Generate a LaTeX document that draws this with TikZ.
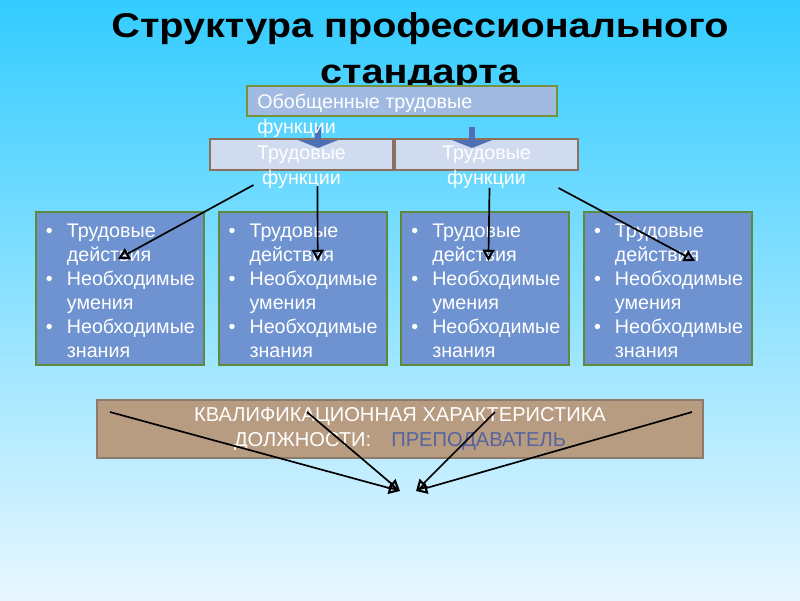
\documentclass[tikz,border=0pt]{standalone}
\usepackage{fontspec}
\setmainfont{Liberation Sans}
\newfontfamily\titlefont{Liberation Sans}[FakeStretch=1.15]
\usepackage{xcolor}
\usepackage{tikz}
\usetikzlibrary{shapes.geometric, arrows, arrows.meta, positioning, calc}

\definecolor{bgtop}{RGB}{51,204,255}
\definecolor{bgmid}{RGB}{118,215,250}
\definecolor{bgbot}{RGB}{232,247,255}
\definecolor{genfill}{RGB}{160,186,226}
\definecolor{genedge}{RGB}{118,146,60}
\definecolor{tffill}{RGB}{208,219,240}
\definecolor{tfedge}{RGB}{140,112,92}
\definecolor{tdfill}{RGB}{111,147,208}
\definecolor{tdedge}{RGB}{94,138,60}
\definecolor{qfill}{RGB}{184,156,130}
\definecolor{qedge}{RGB}{140,123,107}
\definecolor{qblue}{RGB}{85,100,160}
\definecolor{barrow}{RGB}{79,111,181}

\newcommand{\tdlist}{%
  \raggedright
  \begin{list}{\textbullet}{%
    \setlength{\leftmargin}{17pt}\setlength{\labelsep}{10pt}%
    \setlength{\labelwidth}{7pt}\setlength{\itemsep}{0pt}%
    \setlength{\parsep}{0pt}\setlength{\topsep}{0pt}%
    \setlength{\partopsep}{0pt}\raggedright}
  \item Трудовые действия
  \item Необходимые умения
  \item Необходимые знания
  \end{list}\vspace{4pt}}

\begin{document}
\begin{tikzpicture}[x=0.025cm, y=-0.025cm, font=\fontsize{14}{17.5}\selectfont]
    % Node Styles
    \tikzstyle{genbox} = [rectangle, draw=genedge, line width=1.4pt, fill=genfill, minimum width=7.75cm, minimum height=0.75cm, inner sep=0pt]
    \tikzstyle{tfbox} = [rectangle, draw=tfedge, line width=1.4pt, fill=tffill, minimum width=4.575cm, minimum height=0.775cm, inner sep=0pt]
    \tikzstyle{tdbox} = [rectangle, draw=tdedge, line width=1.4pt, fill=tdfill, text=white, text width=3.85cm, inner xsep=0.175cm, inner ysep=0pt, minimum height=3.825cm, font=\fontsize{14}{17.1}\selectfont]
    \tikzstyle{qbox} = [rectangle, draw=qedge, line width=1.4pt, fill=qfill, text=white, minimum width=15.15cm, minimum height=1.45cm, align=center, font=\fontsize{14.3}{17.8}\selectfont]
    \tikzstyle{lbl} = [text=white, inner sep=0pt]
    \tikzstyle{blockarrow} = [draw=barrow, line width=0.15cm, -{Triangle[width=1cm, length=0.2cm]}]
    \tikzstyle{line} = [draw, -{Triangle[open, length=8pt, width=8.5pt, line width=1.5pt]}, line width=1.2pt, black]

    % Background
    \shade[top color=bgtop, middle color=bgmid, bottom color=bgbot] (0,0) rectangle (800,600);
    \useasboundingbox (0,0) rectangle (800,600);

    % Title
    \node [anchor=north, align=center, inner sep=0pt, font=\titlefont\fontsize{24.5}{32.7}\selectfont\bfseries] (title) at (420,12) {Структура профессионального\\стандарта};

    % Functions
    \node [genbox] (gen) at (402,101) {};
    \node [tfbox] (tf1) at (301.5,154.5) {};
    \node [tfbox, right=0cm of tf1] (tf2) {};

    \coordinate (g1) at (318,127);
    \coordinate (g2) at (472,127);
    \draw [blockarrow] (g1) -- ($(g1)+(0,21)$);
    \draw [blockarrow] (g2) -- ($(g2)+(0,21)$);

    \node [lbl, anchor=north west, align=left] (gentxt) at (257,94) {Обобщенные трудовые\\функции};
    \node [lbl, anchor=north, align=center] (tf1txt) at ($(tf1.north)+(0,8)$) {Трудовые\\функции};
    \node [lbl, anchor=north, align=center] (tf2txt) at ($(tf2.north)+(0,8)$) {Трудовые\\функции};

    % Actions
    \node [tdbox] (td1) at (120,288.5) {\tdlist};
    \node [tdbox, right=0.317cm of td1] (td2) {\tdlist};
    \node [tdbox, right=0.317cm of td2] (td3) {\tdlist};
    \node [tdbox, right=0.317cm of td3] (td4) {\tdlist};

    \coordinate (f1) at ($(tf1.south)+(-48,14)$);
    \coordinate (f2) at ($(tf1.south)+(16,15)$);
    \coordinate (f3) at ($(tf2.south)+(3,17)$);
    \coordinate (f4) at ($(tf2.south)+(72,17)$);
    \coordinate (d1) at ($(td1.north)+(-2,48)$);
    \coordinate (d2) at ($(td2.north)+(15,50)$);
    \coordinate (d3) at ($(td3.north)+(3,50)$);
    \coordinate (d4) at ($(td4.north)+(27,50)$);
    \path [line] (f1) -- (d1);
    \path [line] (f2) -- (d2);
    \path [line] (f3) -- (d3);
    \path [line] (f4) -- (d4);

    % Qualification
    \node [qbox] (qual) at (400,429) {КВАЛИФИКАЦИОННАЯ ХАРАКТЕРИСТИКА\\ДОЛЖНОСТИ:\quad\textcolor{qblue}{ПРЕПОДАВАТЕЛЬ}};

    \coordinate (q1) at ($(qual.north west)+(14,13)$);
    \coordinate (q2) at ($(qual.north)+(-93,13)$);
    \coordinate (q3) at ($(qual.north)+(95,13)$);
    \coordinate (q4) at ($(qual.north east)+(-12,13)$);
    \coordinate (ql) at ($(qual.south)+(0,32)$);
    \coordinate (qr) at ($(qual.south)+(16,32)$);
    \path [line] (q1) -- (ql);
    \path [line] (q2) -- (ql);
    \path [line] (q3) -- (qr);
    \path [line] (q4) -- (qr);
\end{tikzpicture}
\end{document}
